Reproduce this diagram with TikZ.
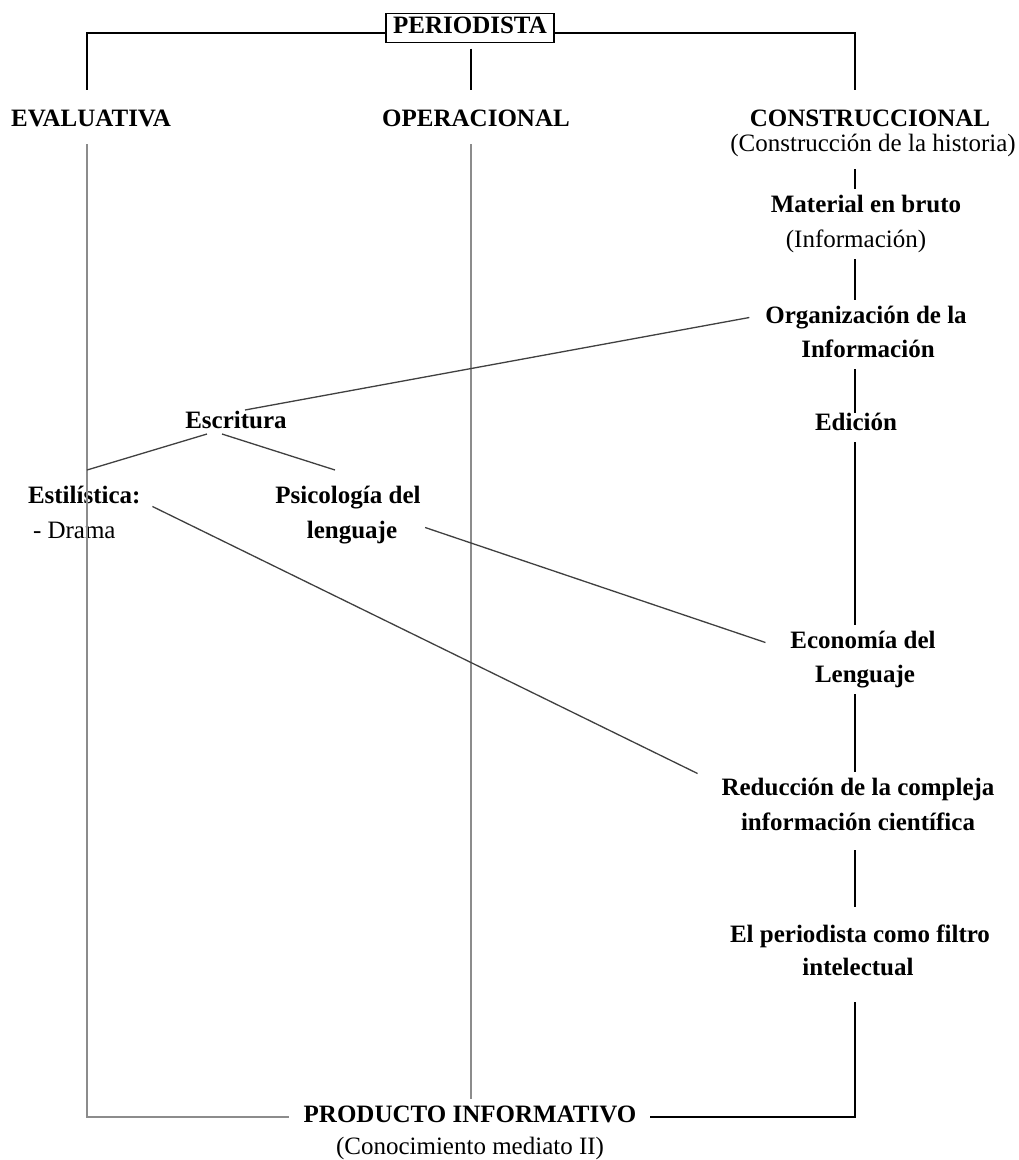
\documentclass[tikz,border=0pt]{standalone}
\usepackage{fontspec}
\setmainfont{Liberation Serif}
\usetikzlibrary{calc}
\begin{document}
\begin{tikzpicture}[x=1pt,y=-1pt,
  lbl/.style={font=\fontsize{25}{29}\selectfont\bfseries, text height=17pt, text depth=6pt, inner sep=6pt, outer sep=0pt, anchor=base},
  sub/.style={lbl, font=\fontsize{25}{29}\selectfont},
  blk/.style={draw=black, line width=1.3pt},
  gry/.style={draw=black!45, line width=1.6pt},
  dgry/.style={draw=black!75, line width=1.3pt}]
\useasboundingbox (0,0) rectangle (1019,1160);
\fill[white] (0,0) rectangle (1019,1160);

% nodes
\node[lbl, draw, line width=1.2pt, inner sep=0pt, minimum width=168pt, minimum height=29pt, anchor=center] (peri) at (470,28) {PERIODISTA};
\node[lbl] (eval) at (91,126) {EVALUATIVA};
\node[lbl] (oper) at (476,126) {OPERACIONAL};
\node[lbl] (cons) at (870,126) {CONSTRUCCIONAL};
\node[sub] (hist) at (873,151) {(Construcción de la historia)};
\node[lbl] (mat) at (866,212) {Material en bruto};
\node[sub] (info) at (856,247) {(Información)};
\node[lbl] (org1) at (866,323) {Organización de la};
\node[lbl] (org2) at (868,357) {Información};
\node[lbl] (escr) at (236,428) {Escritura};
\node[lbl] (edi) at (856,430) {Edición};
\node[lbl, anchor=base west] (esti) at (22,503) {Estilística:};
\node[sub, anchor=base west] (drama) at (27,538) {- Drama};
\node[lbl] (psi1) at (348,503) {Psicología del};
\node[lbl] (psi2) at (352,538) {lenguaje};
\node[lbl] (eco1) at (863,648) {Economía del};
\node[lbl] (eco2) at (865,682) {Lenguaje};
\node[lbl] (red1) at (858,795) {Reducción de la compleja};
\node[lbl] (red2) at (858,830) {información científica};
\node[lbl] (per1) at (860,942) {El periodista como filtro};
\node[lbl] (per2) at (858,975) {intelectual};
\node[lbl] (prod) at (470,1122) {PRODUCTO INFORMATIVO};
\node[sub] (cono) at (470,1154) {(Conocimiento mediato II)};

% helper coordinates
\coordinate (lx) at (87,0);
\coordinate (mx) at (471,0);
\coordinate (rx) at (855,0);
\coordinate (tl) at (87,33);
\coordinate (tr) at (855,33);
\coordinate (bl) at (87,1117);
\coordinate (br) at (855,1117);

% top connectors
\draw[blk] (peri.west |- tl) -- (tl) -- ($(eval.north -| tl)+(0,-13)$);
\draw[blk] (peri.east |- tr) -- (tr) -- ($(cons.north -| tr)+(0,-13)$);
\draw[blk] ($(peri.south -| mx)+(0,6)$) -- ($(oper.north -| mx)+(0,-13)$);

% long grey verticals
\draw[gry] ($(eval.south -| lx)+(0,6)$) -- (bl) -- ($(prod.west |- bl)+(-9,0)$);
\draw[gry] ($(oper.south -| mx)+(0,6)$) -- (prod.north -| mx);

% right column
\draw[blk, shorten <=6pt] (hist.south -| rx) -- (mat.north -| rx);
\draw[blk] (info.south -| rx) -- (org1.north -| rx);
\draw[blk] (org2.south -| rx) -- ($(edi.north -| rx)+(0,6)$);
\draw[blk] (edi.south -| rx) -- (eco1.north -| rx);
\draw[blk] (eco2.south -| rx) -- (red1.north -| rx);
\draw[blk, shorten <=8pt, shorten >=12pt] (red2.south -| rx) -- (per1.north -| rx);
\draw[blk] ($(per2.south -| rx)+(0,15)$) -- (br) -- ($(prod.east |- br)+(8,0)$);

% diagonals
\draw[dgry] ($(org1.west)+(-10,0)$) -- ($(escr.north)+(9,5)$);
\draw[dgry] ($(escr.south)+(-29,-6)$) -- ($(esti.north -| lx)+(0,-10)$);
\draw[dgry] ($(escr.south)+(-14,-6)$) -- ($(psi1.north)+(-13,-10)$);
\draw[dgry] ($(psi2.east)+(22,-5)$) -- ($(eco1.west)+(-19,0)$);
\draw[dgry] ($(esti.east)+(6,9)$) -- ($(red1.west)+(-18,-16)$);
\end{tikzpicture}
\end{document}
